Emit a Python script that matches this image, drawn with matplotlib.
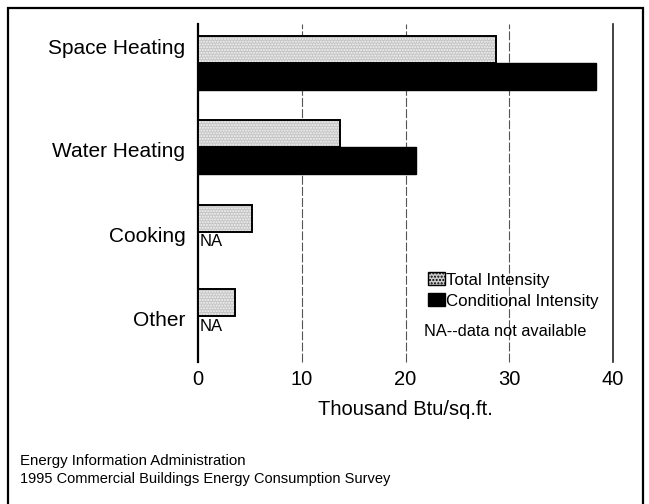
import numpy as np
import matplotlib
matplotlib.use("Agg")
import matplotlib.pyplot as plt
from matplotlib.patches import Rectangle, Patch

plt.rcParams['font.family'] = ['Liberation Sans', 'DejaVu Sans']

# data (thousand Btu per sq.ft.)
categories = ['Space Heating', 'Water Heating', 'Cooking', 'Other']
total_intensity = [28.7, 13.7, 5.2, 3.6]
conditional_intensity = [38.4, 21.0, np.nan, np.nan]
x_ticks = [0, 10, 20, 30, 40]

fig = plt.figure(figsize=(6.49, 5.04), dpi=100)
ax = fig.add_axes([198 / 649, 1 - 362 / 504, 415 / 649, 338 / 504])

y = np.arange(len(categories))
h = 0.32
# stippled grey fill, then a black outline on top
ax.barh(y - h / 2, total_intensity, height=h, color='#c4c4c4',
        edgecolor='#f4f4f4', linewidth=0, hatch='......', zorder=3)
ax.barh(y - h / 2, total_intensity, height=h, fill=False,
        edgecolor='black', linewidth=1.4, zorder=4)
ax.barh(y + h / 2, conditional_intensity, height=h, color='black',
        edgecolor='black', linewidth=1.0, zorder=3)

# NA notes where conditional intensity is missing
for i, v in enumerate(conditional_intensity):
    if np.isnan(v):
        ax.text(0.2, y[i] + 0.03, 'NA', ha='left', va='top', fontsize=12)

ax.set_xlim(0, 40)
ax.set_ylim(len(categories) - 0.46, -0.46)
ax.set_xticks(x_ticks)
ax.tick_params(axis='x', length=0, labelsize=14.5, pad=6)
label_pos = [y[0] - h / 2 - 0.03, y[1] + 0.02, y[2] + 0.03, y[3] + 0.02]
ax.set_yticks(label_pos)
ax.set_yticklabels(categories, fontsize=15)
ax.tick_params(axis='y', length=0, pad=9)

for s in ['top', 'right', 'bottom']:
    ax.spines[s].set_visible(False)
ax.spines['left'].set_linewidth(1.6)
for xv in x_ticks[1:]:
    ax.axvline(xv, color='#222222' if xv == 40 else '#555555',
               linewidth=1.2 if xv == 40 else 0.8,
               linestyle='-' if xv == 40 else (0, (8, 2)),
               zorder=1, clip_on=False)

ax.set_xlabel('Thousand Btu/sq.ft.', fontsize=14.5, labelpad=8)

handles = [Patch(facecolor='#cccccc', edgecolor='black', hatch='.....'),
           Patch(facecolor='black', edgecolor='black')]
leg = ax.legend(handles, ['Total Intensity', 'Conditional Intensity'],
                loc='upper left', bbox_to_anchor=(0.537, 0.285), frameon=False,
                fontsize=12.2, handlelength=1.0, handleheight=0.75,
                handletextpad=0.1, labelspacing=0.35, borderaxespad=0)
ax.text(0.545, 0.09, 'NA--data not available', transform=ax.transAxes,
        fontsize=11.8, ha='left', va='center')

fig.text(20 / 649, 1 - 461 / 504, 'Energy Information Administration',
         fontsize=10.8, va='center')
fig.text(20 / 649, 1 - 479 / 504,
         '1995 Commercial Buildings Energy Consumption Survey',
         fontsize=10.5, va='center')

fig.patches.append(Rectangle((8 / 649, -0.05), 635 / 649, 1.05 - 8 / 504,
                             transform=fig.transFigure, fill=False,
                             edgecolor='black', linewidth=1.6))

fig.savefig('out.png', dpi=100)
